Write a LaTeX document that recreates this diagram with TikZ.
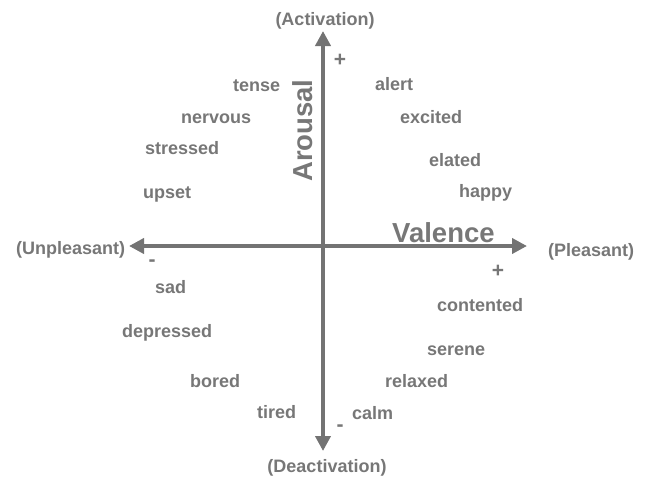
\documentclass[tikz,border=0pt]{standalone}
\usepackage{fontspec}
\setmainfont{Liberation Sans}
\usetikzlibrary{arrows.meta}
\definecolor{txtgray}{HTML}{777777}
\definecolor{axgray}{HTML}{737373}
\tikzset{
  word/.style={inner sep=0pt, anchor=base west, text=txtgray, font=\fontsize{18}{20}\selectfont\bfseries},
  pole/.style={inner sep=0pt, anchor=base, text=txtgray, font=\fontsize{18}{20}\selectfont\bfseries},
  axname/.style={inner sep=0pt, text=txtgray, font=\fontsize{27.5}{30}\selectfont\bfseries},
  axis/.style={draw=axgray, line width=4pt, -{Triangle[length=15pt,width=15pt]}},
  sign/.style={inner sep=0pt, text=txtgray, font=\fontsize{21}{23}\selectfont\bfseries}
}
\begin{document}
\begin{tikzpicture}[x=1pt,y=-1pt]
\useasboundingbox (0,0) rectangle (645,482);
% axis endpoints
\coordinate (O) at (323,246);
\coordinate (top) at (323,31);
\coordinate (bot) at (323,451);
\coordinate (left) at (129,246);
\coordinate (right) at (527,246);
\draw[axis] (O) -- (top);
\draw[axis] (O) -- (bot);
\draw[axis] (O) -- (left);
\draw[axis] (O) -- (right);
% pole labels
\node[pole] (act) at (325,25) {(Activation)};
\node[pole] (deact) at (327,472) {(Deactivation)};
\node[word] (unp) at (16,254) {(Unpleasant)};
\node[word] (ple) at (548,256) {(Pleasant)};
% axis names
\node[axname, anchor=base west] (val) at (392,242) {Valence};
\node[axname, anchor=base west, rotate=90] (aro) at (312,182) {Arousal};
% signs
\node[sign] (sp1) at (340,60) {+};
\node[sign] (sm1) at (340,428) {-};
\node[sign] (sm2) at (152,263) {-};
\node[sign] (sp2) at (498,271) {+};
% words
\node[word] (tense) at (233,91) {tense};
\node[word] (nervous) at (181,123) {nervous};
\node[word] (stressed) at (145,154) {stressed};
\node[word] (upset) at (143,198) {upset};
\node[word] (alert) at (375,90) {alert};
\node[word] (excited) at (400,123) {excited};
\node[word] (elated) at (429,166) {elated};
\node[word] (happy) at (459,197) {happy};
\node[word] (sad) at (155,293) {sad};
\node[word] (depressed) at (122,337) {depressed};
\node[word] (bored) at (190,387) {bored};
\node[word] (tired) at (257,418) {tired};
\node[word] (contented) at (437,311) {contented};
\node[word] (serene) at (427,355) {serene};
\node[word] (relaxed) at (385,387) {relaxed};
\node[word] (calm) at (352,419) {calm};
\end{tikzpicture}
\end{document}
